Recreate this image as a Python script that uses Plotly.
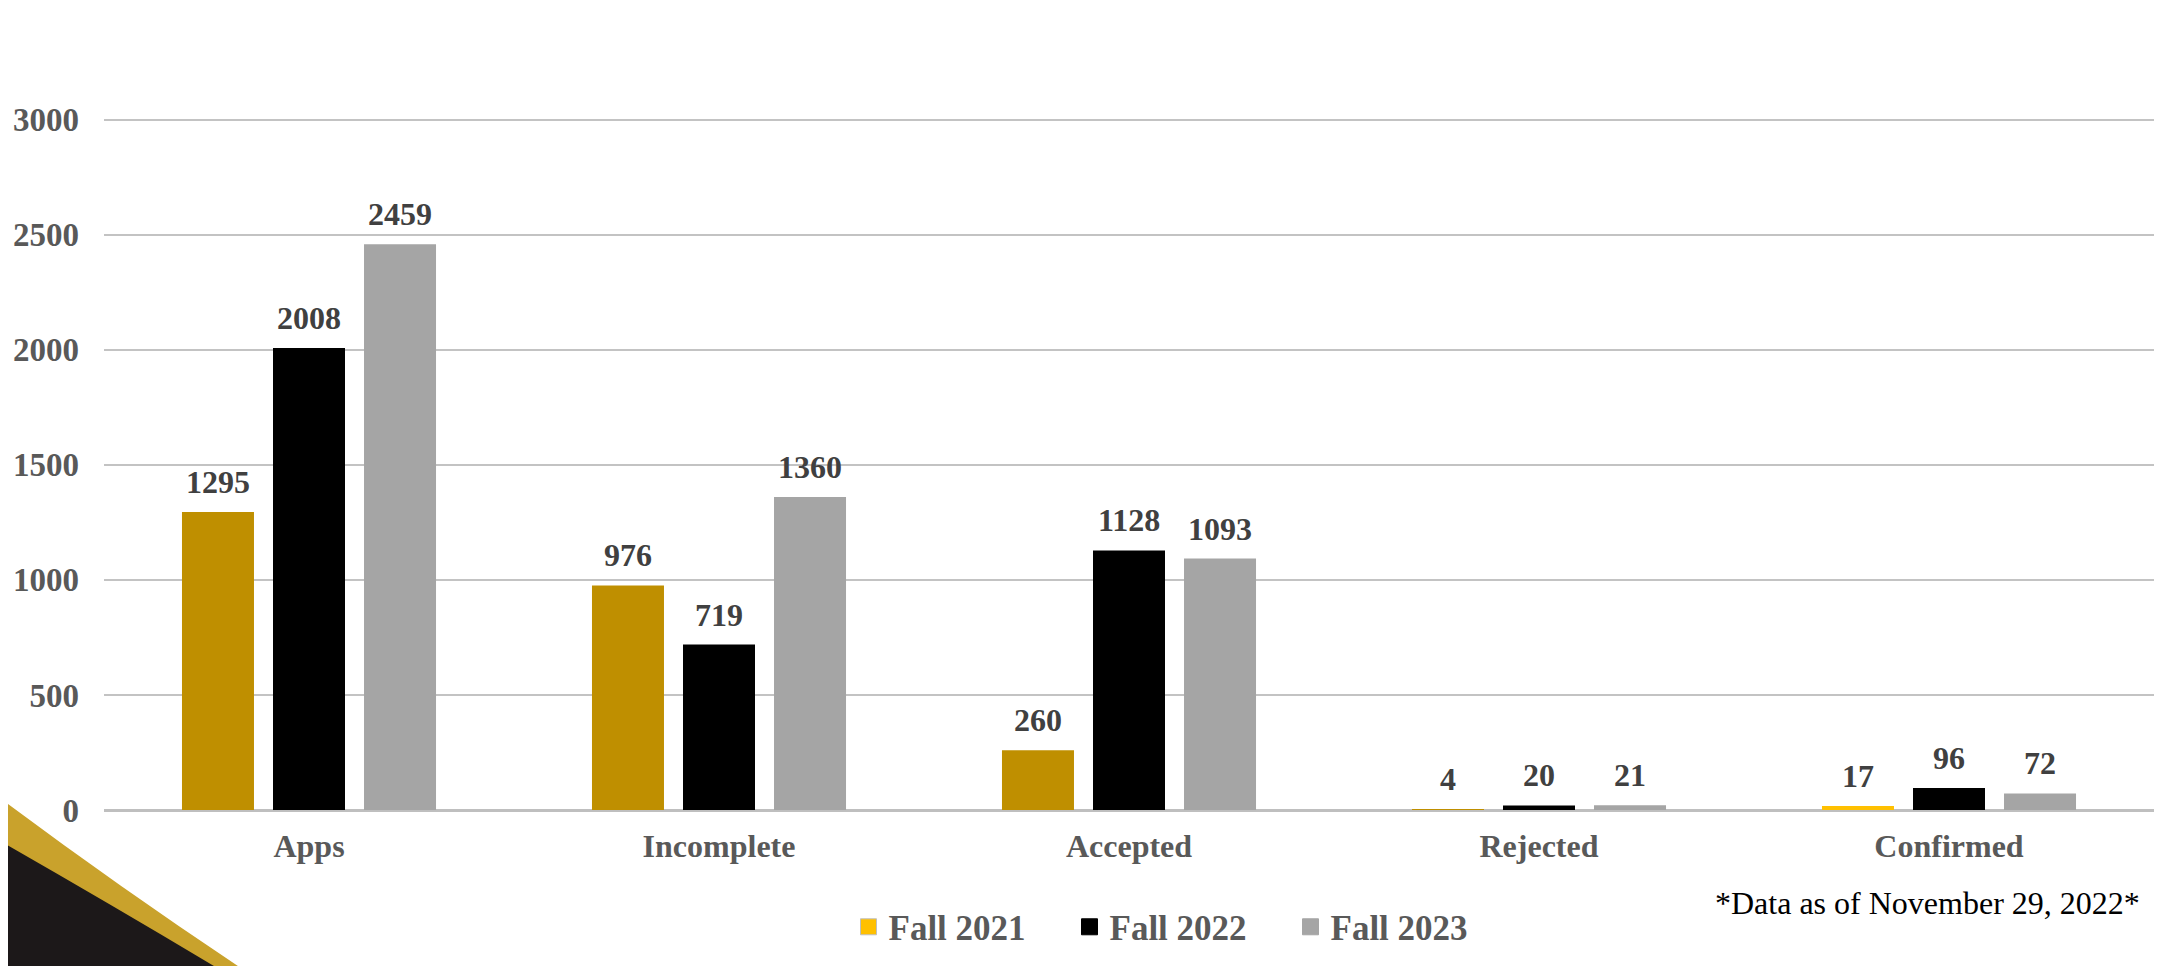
import plotly.graph_objects as go

# ---- data ----
categories = ["Apps", "Incomplete", "Accepted", "Rejected", "Confirmed"]
series_names = ["Fall 2021", "Fall 2022", "Fall 2023"]
fall_2021 = [1295, 976, 260, 4, 17]
fall_2022 = [2008, 719, 1128, 20, 96]
fall_2023 = [2459, 1360, 1093, 21, 72]
y_ticks = [0, 500, 1000, 1500, 2000, 2500, 3000]
footnote = "*Data as of November 29, 2022*"

# ---- layout geometry (window pixels; page body has an 8px offset) ----
OFF = 8
WIN_W, WIN_H = 2164, 966
PLOT_L, PLOT_R = 104, 2154          # window x of plot area
PLOT_B = 810                        # window y of value 0
Y_TOP_VAL = 3060                    # a bit above 3000 so top gridline shows
PX_PER_UNIT = (810 - 120) / 3000    # 3000 gridline sits at window y=120
PLOT_T = PLOT_B - Y_TOP_VAL * PX_PER_UNIT

FIG_W, FIG_H = WIN_W - OFF, WIN_H - OFF
ML = PLOT_L - OFF
MR = FIG_W - (PLOT_R - OFF)
MT = PLOT_T - OFF
MB = FIG_H - (PLOT_B - OFF)

FONT = "Liberation Serif"
GRAY_TXT = "#595959"
LABEL_TXT = "#404040"
c2021_bars = ["#BF8F00", "#BF8F00", "#BF8F00", "#BF8F00", "#FFC000"]
c2021_legend = "#FFC000"
c2022 = "#000000"
c2023 = "#A5A5A5"

series_values = [fall_2021, fall_2022, fall_2023]
series_colors = [c2021_bars, c2022, c2023]

fig = go.Figure()
for name, vals, col in zip(series_names, series_values, series_colors):
    fig.add_trace(go.Bar(
        x=categories, y=vals, name=name,
        marker=dict(color=col, line=dict(width=0)),
        showlegend=False,
    ))

legend_cols = [c2021_legend, c2022, c2023]
for name, col in zip(series_names, legend_cols):
    fig.add_trace(go.Scatter(
        x=[None], y=[None], name=name, mode="markers",
        marker=dict(symbol="square", size=17, color=col,
                    line=dict(width=1, color="#BFBFBF" if col == c2021_legend else col)),
        showlegend=True,
    ))

plot_w = PLOT_R - PLOT_L
cat_w = plot_w / len(categories)
bargap = 0.334
slot = cat_w * (1 - bargap) / 3

annotations = []
for i, vals in enumerate(series_values):
    for cat, v in zip(categories, vals):
        annotations.append(dict(
            x=cat, y=v, xref="x", yref="y", text=str(v), showarrow=False,
            xanchor="center", yanchor="bottom",
            xshift=(i - 1) * slot, yshift=10,
            font=dict(family=FONT, size=32, color=LABEL_TXT, weight="bold"),
        ))


def px_x(p):
    return (p - PLOT_L) / plot_w


def px_y(p):
    return (PLOT_B - p) / (PLOT_B - PLOT_T)


annotations.append(dict(
    x=px_x(2142), y=px_y(903), xref="paper", yref="paper", text=footnote,
    showarrow=False, xanchor="right", yanchor="middle",
    font=dict(family=FONT, size=32, color="#000000"),
))


def curve(p0, c, p1):
    return (f"M {px_x(-10)},{px_y(p0[1] - 7)} L {px_x(p0[0])},{px_y(p0[1])} "
            f"Q {px_x(c[0])},{px_y(c[1])} {px_x(p1[0])},{px_y(p1[1])} "
            f"L {px_x(p1[0])},{px_y(990)} L {px_x(-10)},{px_y(990)} Z")


gold_path = curve((0, 798), (115, 884), (238, 966))
black_path = curve((0, 841), (105, 901), (214, 966))
shapes = [
    dict(type="path", path=gold_path, xref="paper", yref="paper",
         fillcolor="#C9A22C", line=dict(width=0), layer="below"),
    dict(type="path", path=black_path, xref="paper", yref="paper",
         fillcolor="#1C1819", line=dict(width=0), layer="below"),
]

fig.update_layout(
    width=FIG_W, height=FIG_H,
    margin=dict(l=ML, r=MR, t=MT, b=MB, autoexpand=False),
    paper_bgcolor="#FFFFFF", plot_bgcolor="#FFFFFF",
    barmode="group", bargap=bargap, bargroupgap=0.209,
    font=dict(family=FONT, color=GRAY_TXT),
    xaxis=dict(
        tickfont=dict(family=FONT, size=32, color=GRAY_TXT, weight="bold"),
        showgrid=False, showline=False, ticks="", ticklabelstandoff=14,
        fixedrange=True,
    ),
    yaxis=dict(
        range=[0, Y_TOP_VAL], tickvals=y_ticks, ticktext=[str(t) for t in y_ticks],
        tickfont=dict(family=FONT, size=33, color=GRAY_TXT, weight="bold"),
        showgrid=True, gridcolor="#C3C3C3", gridwidth=2,
        zeroline=True, zerolinecolor="#BFBFBF", zerolinewidth=3,
        showline=False, ticks="", ticklabelstandoff=24,
    ),
    legend=dict(
        orientation="h", x=px_x(1180), y=px_y(927), xanchor="center", yanchor="middle",
        font=dict(family=FONT, size=35, color=GRAY_TXT, weight="bold"),
        entrywidth=176, itemwidth=30, bgcolor="rgba(0,0,0,0)",
    ),
    annotations=annotations,
    shapes=shapes,
)

fig.write_html("out.html")
